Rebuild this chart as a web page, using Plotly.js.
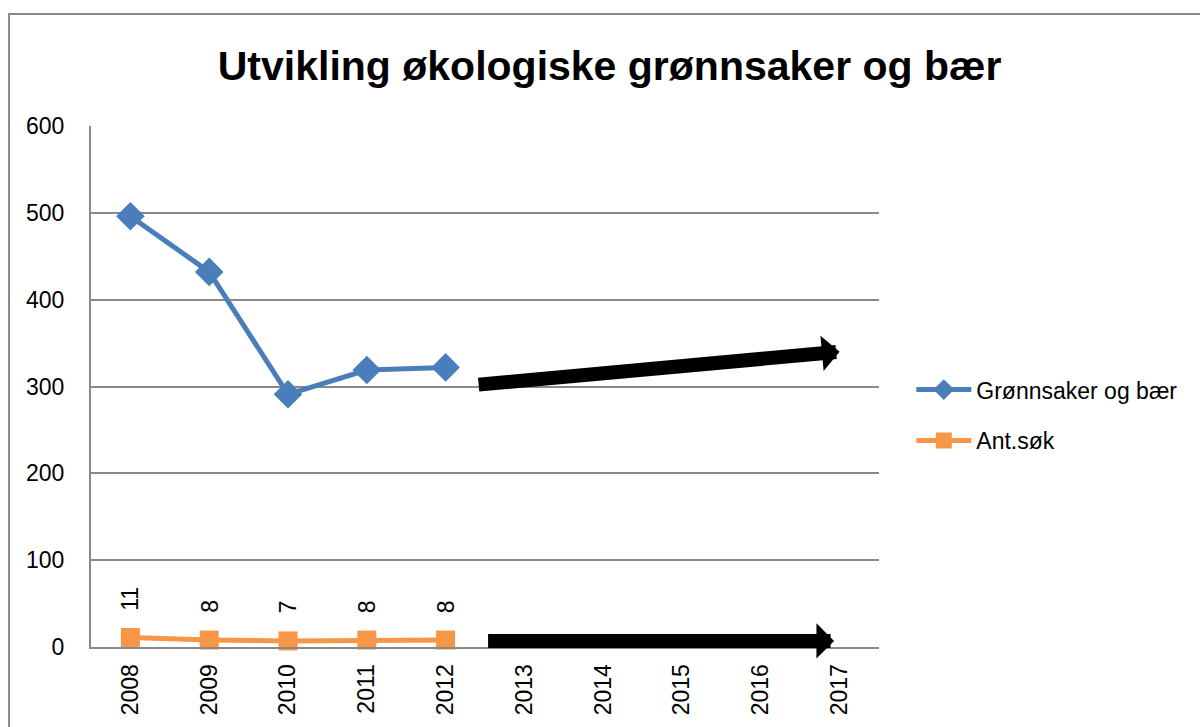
<!DOCTYPE html>
<html>
<head>
<meta charset="utf-8">
<script src="https://cdn.plot.ly/plotly-3.0.1.min.js"></script>
<style>html,body{margin:0;padding:0;background:#fff;}#chart{width:1200px;height:727px;}</style>
</head>
<body>
<div id="chart"></div>
<script>
const years = ["2008","2009","2010","2011","2012","2013","2014","2015","2016","2017"];
const gronnYears = ["2008","2009","2010","2011","2012"];
const gronnValues = [496, 432, 291, 319, 322];
const antYears = ["2008","2009","2010","2011","2012"];
const antValues = [11, 8, 7, 8, 8];
const yTicks = [0, 100, 200, 300, 400, 500, 600];

const gray = "#898989";
const tickFont = {family: "Liberation Sans", size: 23, color: "#000"};

const traces = [
  {
    x: gronnYears, y: gronnValues, name: "Grønnsaker og bær",
    type: "scatter", mode: "lines+markers", legendgroup: "a",
    line: {color: "#4A7EBB", width: 5},
    marker: {symbol: "diamond", size: 22, color: "#4A7EBB"},
    cliponaxis: false
  },
  {
    x: antYears, y: antValues, name: "Ant.søk",
    type: "scatter", mode: "lines+markers", legendgroup: "b",
    line: {color: "#F79646", width: 5},
    marker: {symbol: "square", size: 19, color: "#F79646"},
    cliponaxis: false
  }
];

const annotations = antYears.map((yr, i) => ({
  x: years.indexOf(yr), y: antValues[i], xref: "x", yref: "y",
  text: String(antValues[i]), showarrow: false, textangle: -90,
  xanchor: "center", yanchor: "bottom", yshift: 25,
  font: tickFont
}));

// trend arrows (decorative)
annotations.push({
  x: 9.0, y: 340, ax: 4.4, ay: 302, xref: "x", yref: "y", axref: "x", ayref: "y",
  text: "", showarrow: true, arrowhead: 1, arrowwidth: 14, arrowsize: 0.42, arrowcolor: "#000"
});
annotations.push({
  x: 8.93, y: 7, ax: 4.52, ay: 7, xref: "x", yref: "y", axref: "x", ayref: "y",
  text: "", showarrow: true, arrowhead: 1, arrowwidth: 14, arrowsize: 0.42, arrowcolor: "#000"
});

const layout = {
  width: 1200, height: 727,
  margin: {l: 91, r: 321, t: 126, b: 80},
  paper_bgcolor: "#fff", plot_bgcolor: "#fff",
  title: {
    text: "<b>Utvikling økologiske grønnsaker og bær</b>",
    font: {family: "Liberation Sans", size: 41, color: "#000"},
    x: 0.508, xanchor: "center", y: 0.91, yanchor: "middle"
  },
  xaxis: {
    type: "category", categoryorder: "array", categoryarray: years,
    range: [-0.5, 9.5], tickangle: -90, tickfont: tickFont,
    showline: true, linecolor: gray, linewidth: 2,
    showgrid: false, ticks: "", ticklabelstandoff: 6, zeroline: false
  },
  yaxis: {
    range: [0, 600], tickvals: yTicks, tickfont: tickFont,
    showline: true, linecolor: gray, linewidth: 2,
    showgrid: true, gridcolor: gray, gridwidth: 2,
    ticks: "", ticklabelstandoff: 20, zeroline: false
  },
  showlegend: true,
  legend: {
    x: 1.041, xanchor: "left", y: 0.445, yanchor: "middle",
    font: {family: "Liberation Sans", size: 23, color: "#000"},
    itemwidth: 55,
    tracegroupgap: 18, bgcolor: "rgba(0,0,0,0)"
  },
  annotations: annotations,
  shapes: [{
    type: "path", xref: "paper", yref: "paper",
    path: "M -0.104 -0.5 L -0.104 1.215 L 1.6 1.215",
    line: {color: gray, width: 2}, layer: "below"
  }]
};

Plotly.newPlot("chart", traces, layout, {displayModeBar: false});
</script>
</body>
</html>
